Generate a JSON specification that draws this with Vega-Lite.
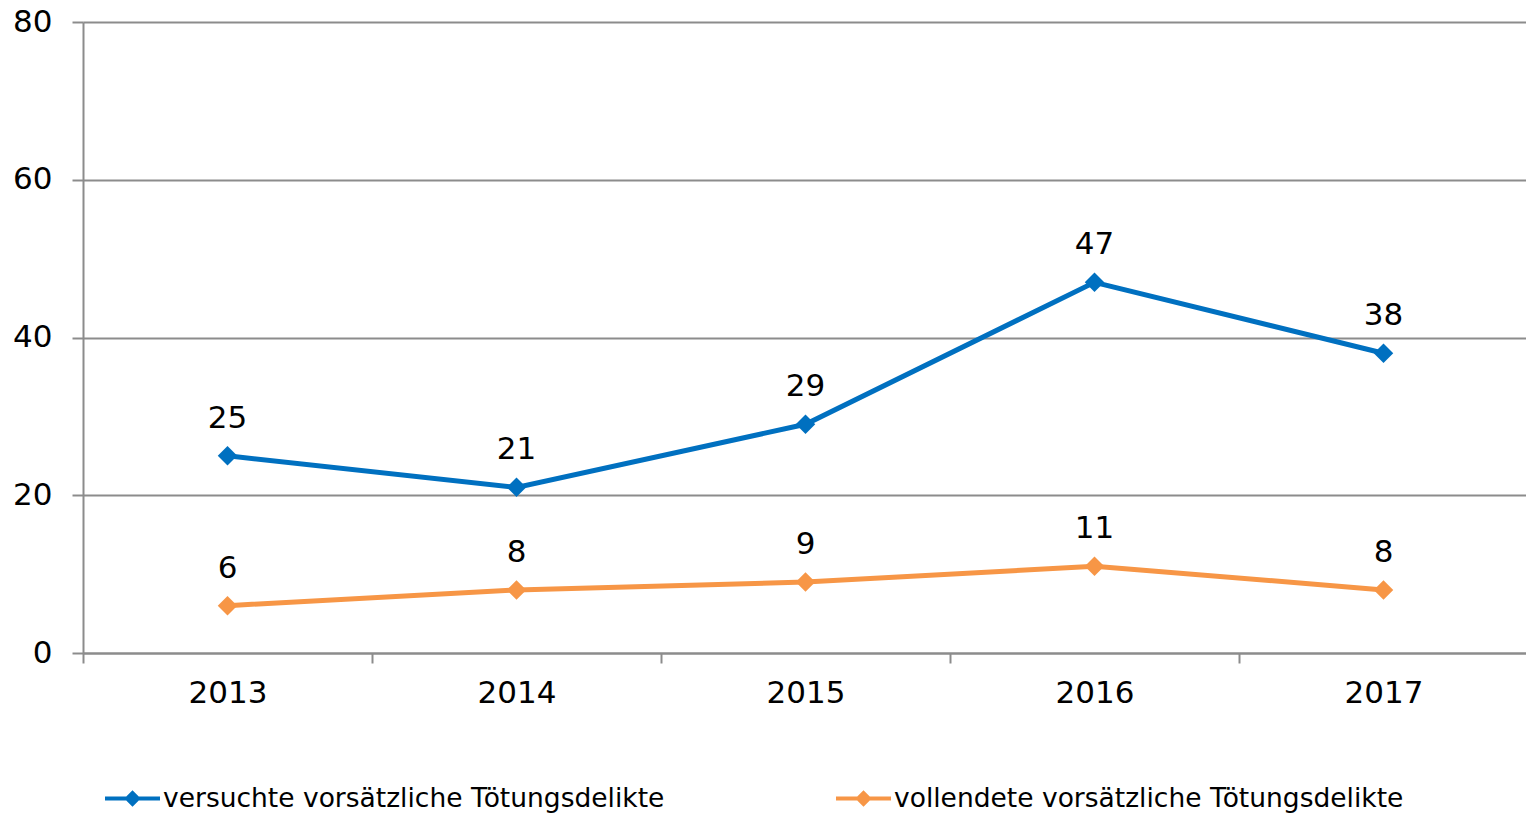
{
  "$schema": "https://vega.github.io/schema/vega-lite/v6.json",
  "autosize": "none",
  "width": 1445,
  "height": 631,
  "padding": {"left": 83, "top": 22, "right": 0, "bottom": 160},
  "background": "white",
  "config": {
    "font": "DejaVu Sans",
    "view": {"stroke": null}
  },
  "data": {
    "values": [
      {"jahr": "2013", "serie": "versuchte vorsätzliche Tötungsdelikte", "wert": 25},
      {"jahr": "2014", "serie": "versuchte vorsätzliche Tötungsdelikte", "wert": 21},
      {"jahr": "2015", "serie": "versuchte vorsätzliche Tötungsdelikte", "wert": 29},
      {"jahr": "2016", "serie": "versuchte vorsätzliche Tötungsdelikte", "wert": 47},
      {"jahr": "2017", "serie": "versuchte vorsätzliche Tötungsdelikte", "wert": 38},
      {"jahr": "2013", "serie": "vollendete vorsätzliche Tötungsdelikte", "wert": 6},
      {"jahr": "2014", "serie": "vollendete vorsätzliche Tötungsdelikte", "wert": 8},
      {"jahr": "2015", "serie": "vollendete vorsätzliche Tötungsdelikte", "wert": 9},
      {"jahr": "2016", "serie": "vollendete vorsätzliche Tötungsdelikte", "wert": 11},
      {"jahr": "2017", "serie": "vollendete vorsätzliche Tötungsdelikte", "wert": 8}
    ]
  },
  "encoding": {
    "x": {
      "field": "jahr",
      "type": "ordinal",
      "bandPosition": 0.5,
      "scale": {"type": "band", "paddingInner": 0, "paddingOuter": 0},
      "axis": {
        "title": null,
        "labelAngle": 0,
        "labelFontSize": 31,
        "labelColor": "#000000",
        "labelPadding": 15,
        "tickBand": "extent",
        "tickSize": 10,
        "tickColor": "#8c8c8c",
        "tickWidth": 2,
        "domainColor": "#8c8c8c",
        "domainWidth": 2,
        "grid": false
      }
    },
    "y": {
      "field": "wert",
      "type": "quantitative",
      "scale": {"domain": [0, 80], "nice": false},
      "axis": {
        "title": null,
        "values": [0, 20, 40, 60, 80],
        "labelFontSize": 31,
        "labelColor": "#000000",
        "labelPadding": 20,
        "tickSize": 11,
        "tickColor": "#8c8c8c",
        "tickWidth": 2,
        "domainColor": "#8c8c8c",
        "domainWidth": 2,
        "grid": true,
        "gridColor": "#8c8c8c",
        "gridWidth": 2
      }
    },
    "color": {
      "field": "serie",
      "type": "nominal",
      "scale": {
        "domain": ["versuchte vorsätzliche Tötungsdelikte", "vollendete vorsätzliche Tötungsdelikte"],
        "range": ["#0070C0", "#F79646"]
      },
      "legend": {
        "title": null,
        "orient": "none",
        "legendX": 22,
        "legendY": 749,
        "direction": "horizontal",
        "columns": 2,
        "columnPadding": 171,
        "labelFontSize": 26.5,
        "labelColor": "#000000",
        "labelOffset": 3,
        "labelLimit": 1000,
        "symbolType": "M-1,-0.075 L1,-0.075 L1,0.075 L-1,0.075 Z M0,-0.3 L0.3,0 L0,0.3 L-0.3,0 Z",
        "symbolSize": 3025,
        "symbolStrokeWidth": 0,
        "encode": {
          "symbols": {
            "update": {
              "fill": {"scale": "color", "field": "value"},
              "strokeWidth": {"value": 0},
              "opacity": {"value": 1}
            }
          }
        }
      }
    }
  },
  "layer": [
    {
      "mark": {"type": "line", "strokeWidth": 5}
    },
    {
      "mark": {"type": "point", "shape": "diamond", "filled": true, "size": 380, "opacity": 1}
    },
    {
      "mark": {"type": "text", "fontSize": 31, "dy": -37, "color": "#000000"},
      "encoding": {
        "text": {"field": "wert", "type": "quantitative"},
        "color": {"value": "#000000"}
      }
    }
  ]
}
